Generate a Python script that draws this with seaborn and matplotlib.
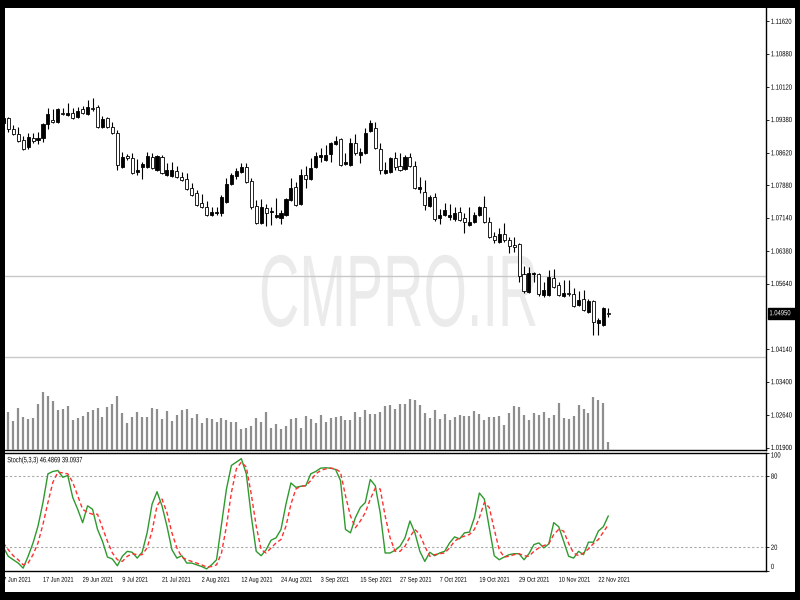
import numpy as np
import pandas as pd
import matplotlib
matplotlib.use('Agg')
import matplotlib.pyplot as plt
import seaborn as sns
from matplotlib.patches import Rectangle
from matplotlib.patheffects import AbstractPathEffect
from matplotlib.transforms import Affine2D, IdentityTransform, blended_transform_factory

# EURUSD daily bars, 7 Jun 2021 .. 24 Nov 2021
opens = [1.0930, 1.0942, 1.0916, 1.0905, 1.0891, 1.0875, 1.0896, 1.0891, 1.0896, 1.0928,
         1.0937, 1.0932, 1.0953, 1.0948, 1.0953, 1.0944, 1.0962, 1.0951, 1.0964, 1.0967,
         1.0921, 1.0942, 1.0921, 1.0907, 1.0830, 1.0855, 1.0850, 1.0818, 1.0830, 1.0830,
         1.0853, 1.0823, 1.0853, 1.0812, 1.0809, 1.0821, 1.0807, 1.0802, 1.0782, 1.0771,
         1.0748, 1.0739, 1.0720, 1.0725, 1.0725, 1.0750, 1.0791, 1.0809, 1.0818, 1.0830,
         1.0798, 1.0741, 1.0702, 1.0736, 1.0727, 1.0716, 1.0714, 1.0720, 1.0755, 1.0784,
         1.0745, 1.0812, 1.0802, 1.0830, 1.0853, 1.0846, 1.0859, 1.0882, 1.0894, 1.0837,
         1.0834, 1.0885, 1.0857, 1.0862, 1.0912, 1.0919, 1.0871, 1.0816, 1.0818, 1.0850,
         1.0832, 1.0825, 1.0853, 1.0832, 1.0780, 1.0773, 1.0741, 1.0761, 1.0714, 1.0720,
         1.0716, 1.0711, 1.0727, 1.0714, 1.0698, 1.0704, 1.0720, 1.0739, 1.0704, 1.0673,
         1.0659, 1.0677, 1.0663, 1.0652, 1.0654, 1.0586, 1.0545, 1.0586, 1.0586, 1.0538,
         1.0538, 1.0577, 1.0561, 1.0536, 1.0543, 1.0540, 1.0515, 1.0529, 1.0500, 1.0524,
         1.0474, 1.0470, 1.0497]
highs = [1.0950, 1.0944, 1.0926, 1.0921, 1.0901, 1.0907, 1.0907, 1.0910, 1.0930, 1.0964,
         1.0962, 1.0964, 1.0964, 1.0976, 1.0964, 1.0967, 1.0969, 1.0983, 1.0987, 1.0971,
         1.0946, 1.0944, 1.0932, 1.0914, 1.0864, 1.0859, 1.0862, 1.0848, 1.0841, 1.0864,
         1.0862, 1.0857, 1.0857, 1.0839, 1.0841, 1.0832, 1.0818, 1.0816, 1.0793, 1.0777,
         1.0768, 1.0752, 1.0739, 1.0739, 1.0766, 1.0805, 1.0816, 1.0828, 1.0839, 1.0839,
         1.0805, 1.0755, 1.0757, 1.0745, 1.0739, 1.0759, 1.0732, 1.0759, 1.0805, 1.0796,
         1.0825, 1.0832, 1.0850, 1.0864, 1.0873, 1.0880, 1.0887, 1.0901, 1.0896, 1.0862,
         1.0896, 1.0905, 1.0873, 1.0919, 1.0937, 1.0932, 1.0885, 1.0841, 1.0853, 1.0864,
         1.0862, 1.0857, 1.0862, 1.0843, 1.0807, 1.0800, 1.0766, 1.0771, 1.0734, 1.0748,
         1.0745, 1.0739, 1.0739, 1.0725, 1.0739, 1.0727, 1.0741, 1.0764, 1.0716, 1.0682,
         1.0691, 1.0702, 1.0670, 1.0670, 1.0657, 1.0604, 1.0602, 1.0590, 1.0588, 1.0568,
         1.0595, 1.0597, 1.0568, 1.0572, 1.0572, 1.0554, 1.0547, 1.0549, 1.0529, 1.0527,
         1.0486, 1.0511, 1.0508]
lows = [1.0920, 1.0910, 1.0903, 1.0887, 1.0869, 1.0871, 1.0885, 1.0882, 1.0887, 1.0916,
        1.0930, 1.0930, 1.0948, 1.0946, 1.0940, 1.0942, 1.0951, 1.0948, 1.0958, 1.0919,
        1.0919, 1.0919, 1.0905, 1.0823, 1.0828, 1.0846, 1.0814, 1.0812, 1.0802, 1.0828,
        1.0825, 1.0821, 1.0814, 1.0810, 1.0807, 1.0805, 1.0798, 1.0777, 1.0764, 1.0741,
        1.0736, 1.0718, 1.0718, 1.0720, 1.0718, 1.0748, 1.0789, 1.0802, 1.0816, 1.0793,
        1.0734, 1.0700, 1.0700, 1.0695, 1.0698, 1.0714, 1.0700, 1.0718, 1.0752, 1.0741,
        1.0743, 1.0782, 1.0800, 1.0828, 1.0841, 1.0843, 1.0841, 1.0880, 1.0832, 1.0834,
        1.0832, 1.0857, 1.0839, 1.0859, 1.0910, 1.0871, 1.0814, 1.0814, 1.0816, 1.0823,
        1.0821, 1.0823, 1.0830, 1.0780, 1.0771, 1.0732, 1.0739, 1.0707, 1.0700, 1.0718,
        1.0709, 1.0707, 1.0707, 1.0679, 1.0695, 1.0702, 1.0718, 1.0702, 1.0668, 1.0657,
        1.0657, 1.0659, 1.0634, 1.0636, 1.0568, 1.0543, 1.0543, 1.0568, 1.0536, 1.0534,
        1.0536, 1.0554, 1.0536, 1.0534, 1.0536, 1.0511, 1.0513, 1.0502, 1.0497, 1.0447,
        1.0447, 1.0468, 1.0488]
closes = [1.0942, 1.0916, 1.0905, 1.0889, 1.0871, 1.0898, 1.0889, 1.0896, 1.0928, 1.0951,
          1.0933, 1.0962, 1.0951, 1.0953, 1.0942, 1.0958, 1.0953, 1.0967, 1.0963, 1.0921,
          1.0939, 1.0921, 1.0907, 1.0834, 1.0853, 1.0850, 1.0816, 1.0823, 1.0837, 1.0855,
          1.0828, 1.0855, 1.0816, 1.0823, 1.0823, 1.0807, 1.0800, 1.0780, 1.0766, 1.0743,
          1.0739, 1.0720, 1.0727, 1.0727, 1.0761, 1.0791, 1.0812, 1.0821, 1.0830, 1.0796,
          1.0739, 1.0702, 1.0739, 1.0725, 1.0729, 1.0720, 1.0725, 1.0757, 1.0782, 1.0743,
          1.0812, 1.0802, 1.0828, 1.0855, 1.0857, 1.0857, 1.0885, 1.0889, 1.0834, 1.0841,
          1.0885, 1.0862, 1.0864, 1.0907, 1.0930, 1.0873, 1.0823, 1.0823, 1.0850, 1.0830,
          1.0823, 1.0853, 1.0832, 1.0782, 1.0784, 1.0743, 1.0761, 1.0711, 1.0720, 1.0732,
          1.0720, 1.0725, 1.0709, 1.0704, 1.0704, 1.0720, 1.0739, 1.0704, 1.0670, 1.0663,
          1.0677, 1.0663, 1.0650, 1.0648, 1.0581, 1.0547, 1.0588, 1.0588, 1.0540, 1.0549,
          1.0579, 1.0556, 1.0538, 1.0543, 1.0540, 1.0513, 1.0527, 1.0504, 1.0524, 1.0476,
          1.0481, 1.0508, 1.0495]
volumes = [55000, 56700, 44250, 63300, 50250, 46800, 48300, 69300, 86700, 81750,
           74250, 60300, 61800, 66750, 45300, 48300, 51750, 56700, 60300, 63300,
           50250, 65250, 69300, 81750, 55800, 40800, 50250, 57750, 50250, 50250,
           63300, 61800, 46800, 59250, 44250, 53250, 60300, 61800, 48300, 54300,
           40800, 48300, 46800, 41700, 48300, 45300, 41700, 42750, 31800, 33300,
           36750, 48300, 42750, 56700, 33300, 39300, 31800, 36750, 46800, 48300,
           33300, 51750, 46800, 40800, 53250, 41700, 48300, 50250, 51750, 45300,
           45300, 56700, 50250, 60300, 54300, 54300, 57750, 66750, 68250, 61800,
           69300, 69300, 76800, 75300, 68250, 55800, 48300, 60300, 46800, 54300,
           45300, 50250, 52800, 51750, 51750, 58200, 54300, 45300, 50250, 50250,
           51750, 38250, 55800, 66750, 64200, 53250, 45300, 55800, 53250, 56700,
           48300, 53250, 70200, 48300, 46800, 51750, 68250, 61800, 55800, 79200,
           75300, 70200, 11700]
stoch_k = [20.0, 12.4, 9.5, 6.7, 2.4, 12.4, 23.7, 37.9, 57.8, 82.0,
           84.0, 84.8, 79.1, 80.6, 62.1, 52.1, 40.8, 55.0, 52.1, 35.1,
           25.1, 11.8, 10.1, 4.4, 12.4, 16.6, 15.8, 10.9, 15.8, 32.2,
           56.4, 66.9, 55.0, 37.9, 18.0, 10.9, 12.9, 6.7, 6.7, 5.2,
           3.8, 1.8, 5.2, 9.5, 39.4, 69.2, 89.1, 91.9, 94.8, 82.0,
           46.5, 16.6, 12.9, 18.0, 26.0, 28.0, 35.1, 56.4, 74.3, 70.6,
           71.5, 72.0, 82.0, 84.0, 86.8, 87.1, 86.8, 85.7, 76.3, 35.1,
           32.2, 45.0, 53.6, 57.8, 77.2, 72.0, 49.3, 15.2, 15.2, 17.5,
           20.9, 28.0, 42.2, 32.2, 16.6, 8.1, 15.8, 12.9, 15.2, 16.6,
           23.7, 28.8, 27.1, 32.2, 32.8, 45.0, 65.8, 60.7, 36.5, 12.9,
           9.5, 11.8, 13.8, 14.6, 14.6, 9.5, 14.6, 22.3, 23.7, 19.5,
           22.9, 40.8, 37.4, 25.1, 12.4, 10.9, 16.6, 13.8, 24.3, 24.3,
           33.7, 37.4, 46.4869]
stoch_d = [23.7, 18.0, 12.9, 9.5, 5.2, 6.7, 13.8, 23.7, 39.4, 57.8,
           74.9, 83.4, 82.8, 82.0, 74.9, 63.5, 52.1, 49.3, 47.9, 47.9,
           36.5, 25.1, 15.2, 9.5, 8.1, 12.4, 14.6, 13.8, 13.8, 19.5,
           33.7, 55.0, 60.7, 49.3, 32.2, 19.5, 11.8, 9.5, 8.1, 6.7,
           5.2, 3.3, 3.8, 5.2, 15.2, 37.9, 66.3, 86.2, 91.9, 87.7,
           64.9, 37.9, 18.0, 15.2, 19.5, 23.7, 26.6, 37.9, 56.4, 69.2,
           71.5, 72.0, 76.3, 82.0, 84.8, 86.2, 86.8, 86.2, 83.4, 63.5,
           46.5, 36.5, 42.2, 49.3, 60.7, 69.8, 69.2, 46.5, 28.0, 16.6,
           16.6, 20.9, 28.8, 35.1, 30.8, 20.9, 12.4, 13.8, 14.6, 15.2,
           19.5, 25.1, 28.0, 29.4, 30.8, 35.1, 45.0, 57.8, 53.6, 35.1,
           18.0, 11.8, 12.4, 13.8, 14.6, 12.9, 12.4, 16.6, 19.5, 21.5,
           22.9, 30.8, 35.1, 33.7, 23.2, 15.2, 12.9, 15.2, 18.6, 23.2,
           26.6, 32.8, 39.0937]

price_ticks = [1.11620, 1.10880, 1.10120, 1.09380, 1.08620, 1.07880, 1.07140,
               1.06380, 1.05640, 1.04140, 1.03400, 1.02640, 1.01900]
level_lines = [1.0582, 1.0397]
last_price = 1.04950
stoch_levels = [20, 80]
stoch_ticks = [0, 20, 80, 100]
watermark = 'CMPRO.IR'

dates = pd.bdate_range('2021-06-07', '2021-11-24')
df = pd.DataFrame({'open': opens, 'high': highs, 'low': lows, 'close': closes,
                   'volume': volumes, 'k': stoch_k, 'd': stoch_d}, index=dates)
df['bar'] = np.arange(len(df))


class Squeeze(AbstractPathEffect):
    # the screenshot is squashed sideways, so draw glyphs narrower
    def __init__(self, sx):
        super().__init__()
        self.sx = sx

    def draw_path(self, renderer, gc, tpath, affine, rgbFace=None):
        renderer.draw_path(gc, tpath, Affine2D().scale(self.sx, 1) + affine, rgbFace)


sns.set_style('white')
plt.rcParams['font.family'] = ['Liberation Sans', 'DejaVu Sans']

fig = plt.figure(figsize=(8, 6), dpi=100, facecolor='black')


def px_box(l, t, r, b):
    # pixel box (from top-left) -> figure fraction rect
    return [l / 800, 1 - b / 600, (r - l) / 800, (b - t) / 600]


# white terminal area inside the black frame
fig.add_artist(Rectangle((5 / 800, 8 / 600), 790 / 800, 584 / 600, transform=fig.transFigure,
                         fc='white', ec='none', zorder=-5))

ax = fig.add_axes(px_box(5, 8, 766, 450))
ax2 = fig.add_axes(px_box(5, 452.5, 766, 571), sharex=ax)
axv = ax.twinx()

# watermark
ax.text(259, 274, watermark, transform=IdentityTransform(), fontsize=73.4, color='#ebebeb',
        ha='left', va='baseline', zorder=0.5, path_effects=[Squeeze(0.548)])

for lv in level_lines:
    ax.axhline(lv, color='#c8c8c8', lw=1, zorder=1)

# candles
up = df.close >= df.open
body_lo = np.minimum(df.open, df.close)
body_h = np.maximum((df.close - df.open).abs(), 0.00006)
ax.vlines(df.bar, df.low, df.high, color='black', lw=0.8, zorder=2)
ax.bar(df.bar[up], body_h[up], bottom=body_lo[up], width=0.62, color='black',
       edgecolor='black', lw=0.6, zorder=3)
ax.bar(df.bar[~up], body_h[~up], bottom=body_lo[~up], width=0.62, color='white',
       edgecolor='black', lw=0.6, zorder=3)

# volumes at the bottom of the main window
axv.vlines(df.bar, 0, df.volume, color='#8e8e8e', lw=1.6)
axv.set_ylim(0, 663000)
axv.set_axis_off()

# price scale
SQ_P = [Squeeze(0.78)]
ax.set_xlim(0.343, 153.8)
ax.set_ylim(1.01843, 1.11925)
ax.yaxis.tick_right()
ax.set_yticks(price_ticks)
ax.set_yticklabels([f'{p:.5f}' for p in price_ticks])
ax.tick_params(axis='y', length=2.5, width=0.6, pad=1.0, labelsize=5.4, colors='black', direction='out')
ax.tick_params(axis='x', bottom=False, labelbottom=False)
ax.set_xticks([])
for lab in ax.get_yticklabels():
    lab.set_path_effects(SQ_P)
ax.text(1.0045, last_price, f'{last_price:.5f}', transform=blended_transform_factory(ax.transAxes, ax.transData),
        ha='left', va='center', color='white', fontsize=5.4, path_effects=SQ_P,
        bbox=dict(boxstyle='square,pad=0.25', fc='black', ec='black'), clip_on=False)

for s in ['top', 'left']:
    ax.spines[s].set_visible(False)
for s in ['right', 'bottom']:
    ax.spines[s].set_color('black')
    ax.spines[s].set_linewidth(1)

# stochastic
sns.lineplot(data=df, x='bar', y='k', ax=ax2, color='#2e9a2e', lw=1)
sns.lineplot(data=df, x='bar', y='d', ax=ax2, color='#ff3030', lw=1, linestyle=(0, (3, 2)))
for lv in stoch_levels:
    ax2.axhline(lv, color='#a8a8a8', lw=0.8, ls=(0, (2, 2)), zorder=1)
ax2.set_ylim(0, 100)
ax2.set_xlim(0.343, 153.8)
ax2.set_xlabel('')
ax2.set_ylabel('')
ax2.yaxis.tick_right()
ax2.set_yticks(stoch_ticks)
ax2.set_yticklabels([str(t) for t in stoch_ticks])
ax2.tick_params(axis='y', length=2, width=0.6, pad=1.5, labelsize=5.4, colors='black')
ax2.tick_params(axis='x', bottom=False, labelbottom=False)
for t in ax2.yaxis.get_major_ticks():
    t.label2.set_path_effects(SQ_P)
    if t.label2.get_text() == '0':
        t.label2.set_va('bottom')
    elif t.label2.get_text() == '100':
        t.label2.set_va('top')
ax2.spines['left'].set_visible(False)
for s in ['right', 'bottom', 'top']:
    ax2.spines[s].set_color('black')
    ax2.spines[s].set_linewidth(1)

last = df.iloc[-1]
ax2.text(0.003, 0.93, f'Stoch(5,3,3) {last.k:.4f} {last.d:.4f}', transform=ax2.transAxes,
         fontsize=5.6, va='center', ha='left', color='black', path_effects=[Squeeze(0.73)])

# date labels every 8 bars
tr_dates = blended_transform_factory(ax2.transData, ax2.transAxes)
for i in range(0, len(df), 8):
    d = df.index[i]
    ax2.text(i, -0.078, f'{d.day} {d:%b %Y}', transform=tr_dates, ha='left', va='center',
             fontsize=5.0, color='black', clip_on=False, path_effects=[Squeeze(0.8)])

fig.savefig('out.png', dpi=100, facecolor='black')
